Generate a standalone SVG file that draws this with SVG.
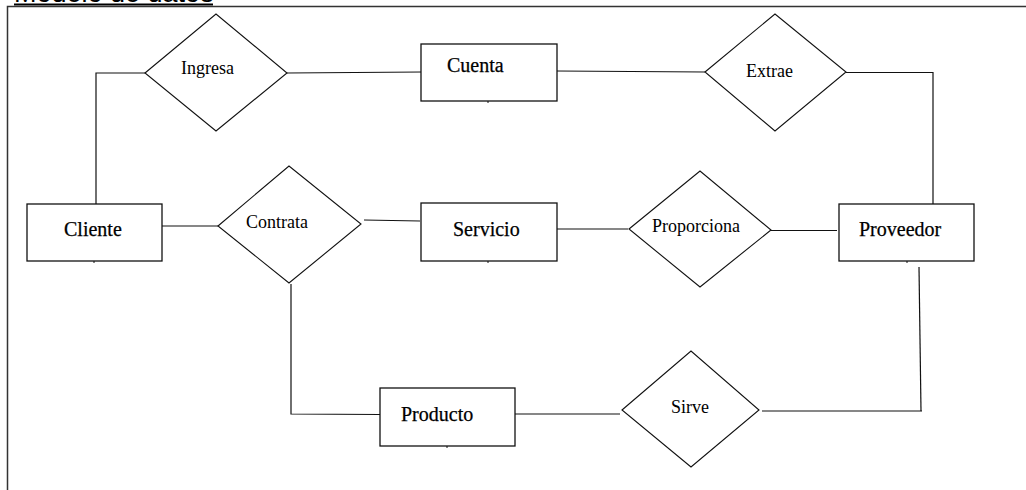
<svg xmlns="http://www.w3.org/2000/svg" width="1026" height="490" viewBox="0 0 1026 490">
  <style>
    .frame { fill: none; stroke: #333; stroke-width: 1.5; }
    .title { font-family: "Liberation Sans", Arial, sans-serif; font-size: 27px; fill: #000; }
    .entity { fill: #fff; stroke: #111; stroke-width: 1.3; }
    .relation { fill: #fff; stroke: #111; stroke-width: 1.1; }
    .tick { stroke: #111; stroke-width: 1; }
    .elabel { font-family: "Liberation Serif", "Times New Roman", serif; font-size: 20px; fill: #000; stroke: #000; stroke-width: 0.25; }
    .rlabel { font-family: "Liberation Serif", "Times New Roman", serif; font-size: 18px; fill: #000; }
    .conn { fill: none; stroke: #111; stroke-width: 1.2; }
  </style>

  <rect width="1026" height="490" fill="#fff"/>

  <!-- page heading, mostly above the top edge -->
  <g id="heading">
    <text class="title" x="14" y="2">Modelo de datos</text>
    <line x1="14" y1="4.5" x2="213" y2="4.5" stroke="#000" stroke-width="2"/>
  </g>

  <!-- frame around the model -->
  <polyline class="frame" points="7.5,490 7.5,6.5 1026,6.5"/>

  <!-- connectors -->
  <g id="connectors">
    <polyline class="conn" points="96,204 96,73 145,73"/>
    <line class="conn" x1="287" y1="73" x2="422" y2="72"/>
    <line class="conn" x1="557" y1="71" x2="705" y2="72"/>
    <polyline class="conn" points="846,72.5 933,72.5 933,204"/>
    <line class="conn" x1="162" y1="226" x2="218" y2="226"/>
    <line class="conn" x1="364" y1="220" x2="420" y2="221"/>
    <line class="conn" x1="557" y1="229" x2="628" y2="229"/>
    <line class="conn" x1="771" y1="230.5" x2="837" y2="230.5"/>
    <polyline class="conn" points="291,284 291,414 380,414.5"/>
    <line class="conn" x1="515" y1="414" x2="620" y2="414"/>
    <line class="conn" x1="762" y1="411" x2="922" y2="411"/>
    <line class="conn" x1="919" y1="267" x2="921" y2="411"/>
  </g>

  <!-- entities -->
  <g id="cliente">
    <rect class="entity" x="27" y="204" width="135" height="57"/>
    <line class="tick" x1="94" y1="261" x2="94" y2="263"/>
    <text class="elabel" x="64" y="236">Cliente</text>
  </g>
  <g id="cuenta">
    <rect class="entity" x="421" y="44" width="136" height="57"/>
    <line class="tick" x1="488" y1="101" x2="488" y2="103"/>
    <text class="elabel" x="447" y="72">Cuenta</text>
  </g>
  <g id="servicio">
    <rect class="entity" x="421" y="203" width="136" height="58"/>
    <line class="tick" x1="488" y1="261" x2="488" y2="263"/>
    <text class="elabel" x="453" y="236">Servicio</text>
  </g>
  <g id="proveedor">
    <rect class="entity" x="839" y="204" width="135" height="57"/>
    <line class="tick" x1="907" y1="261" x2="907" y2="263"/>
    <text class="elabel" x="859" y="236">Proveedor</text>
  </g>
  <g id="producto">
    <rect class="entity" x="380" y="388" width="135" height="58"/>
    <line class="tick" x1="447" y1="446" x2="447" y2="448"/>
    <text class="elabel" x="401" y="421">Producto</text>
  </g>

  <!-- relationships -->
  <g id="ingresa">
    <polygon class="relation" points="145,73 216,14 287,73 216,131"/>
    <text class="rlabel" x="181" y="74">Ingresa</text>
  </g>
  <g id="extrae">
    <polygon class="relation" points="705,72 775,14 846,72 775,131"/>
    <text class="rlabel" x="746" y="77">Extrae</text>
  </g>
  <g id="contrata">
    <polygon class="relation" points="218,226 289,166 361,224 289,283"/>
    <text class="rlabel" x="246" y="228">Contrata</text>
  </g>
  <g id="proporciona">
    <polygon class="relation" points="629,229 700,171 771,230 700,287"/>
    <text class="rlabel" x="652" y="232">Proporciona</text>
  </g>
  <g id="sirve">
    <polygon class="relation" points="622,410 691,351 759,410 691,467"/>
    <text class="rlabel" x="671" y="413">Sirve</text>
  </g>
</svg>
